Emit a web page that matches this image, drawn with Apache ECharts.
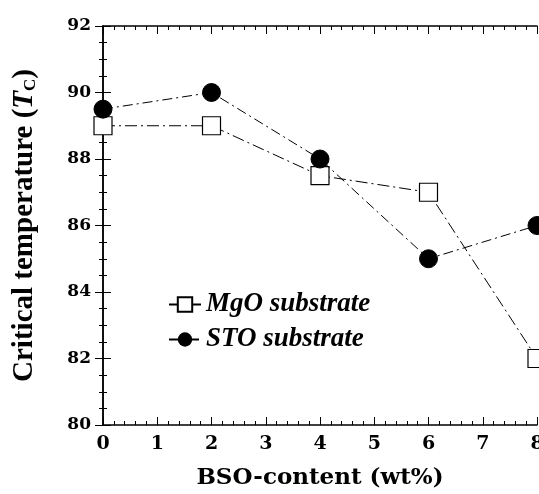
<!DOCTYPE html>
<html><head><meta charset="utf-8">
<script src="https://cdn.jsdelivr.net/npm/echarts@6/dist/echarts.min.js"></script>
<style>html,body{margin:0;padding:0;background:#fff}#c{width:539px;height:494px}</style>
</head><body><div id="c"></div>
<script>
const bso = [0, 2, 4, 6, 8];
const mgo = [89, 89, 87.5, 87, 82];
const sto = [89.5, 90, 88, 85, 86];
const xTicks = [0, 1, 2, 3, 4, 5, 6, 7, 8];
const yTicks = [80, 82, 84, 86, 88, 90, 92];

const F = '"Liberation Serif", "Times New Roman", serif';
const W = '"DejaVu Serif", "Liberation Serif", serif';
const chart = echarts.init(document.getElementById('c'));
const axisCommon = {
  axisLine: {lineStyle: {color: '#000', width: 1.5}},
  axisTick: {inside: true, length: 8, lineStyle: {color: '#000', width: 1}},
  minorTick: {show: true, length: 4, lineStyle: {color: '#000', width: 1}},
  splitLine: {show: false}
};
chart.setOption({
  animation: false,
  grid: {left: 103, right: 2, top: 26, bottom: 69, containLabel: false, outerBoundsMode: 'none'},
  legend: {
    orient: 'vertical', left: 163, top: 286, itemGap: 8,
    itemWidth: 32, itemHeight: 18,
    textStyle: {fontFamily: F, fontStyle: 'italic', fontWeight: 'bold', fontSize: 27, color: '#000'},
    data: ['MgO substrate', 'STO substrate']
  },
  xAxis: [{
    type: 'value', min: xTicks[0], max: xTicks[xTicks.length - 1], interval: 1,
    ...axisCommon, minorTick: {...axisCommon.minorTick, splitNumber: 5},
    axisLabel: {fontFamily: W, fontWeight: 'bold', fontSize: 19, color: '#000', margin: 10},
    name: 'BSO-content (wt%)', nameLocation: 'middle', nameGap: 42,
    nameTextStyle: {fontFamily: W, fontWeight: 'bold', fontSize: 23, color: '#000'}
  }, {
    type: 'value', position: 'top', min: 0, max: 8, interval: 1,
    ...axisCommon, minorTick: {...axisCommon.minorTick, splitNumber: 5},
    axisLabel: {show: false}
  }],
  yAxis: [{
    type: 'value', min: yTicks[0], max: yTicks[yTicks.length - 1], interval: 2,
    ...axisCommon, minorTick: {...axisCommon.minorTick, splitNumber: 4},
    axisLabel: {fontFamily: W, fontWeight: 'bold', fontSize: 17, color: '#000', margin: 12},
    name: '{n|Critical temperature (}{t|T}{s|C}{n|)}', nameLocation: 'middle', nameGap: 64, nameRotate: 90,
    nameTextStyle: {
      fontFamily: F, fontWeight: 'bold', fontSize: 29, color: '#000',
      rich: {
        n: {fontFamily: F, fontWeight: 'bold', fontSize: 29, color: '#000'},
        t: {fontFamily: F, fontWeight: 'bold', fontStyle: 'italic', fontSize: 29, color: '#000'},
        s: {fontFamily: F, fontWeight: 'bold', fontSize: 17, color: '#000', verticalAlign: 'bottom', padding: [12, 0, 0, 0]}
      }
    }
  }, {
    type: 'value', position: 'right', min: 80, max: 92, interval: 2,
    ...axisCommon, minorTick: {...axisCommon.minorTick, splitNumber: 4},
    axisLabel: {show: false}
  }],
  series: [{
    name: 'MgO substrate', type: 'line', data: bso.map((x, i) => [x, mgo[i]]),
    symbol: 'rect', symbolSize: 18, z: 3,
    itemStyle: {color: '#fff', borderColor: '#000', borderWidth: 1.2},
    lineStyle: {color: '#000', width: 1, type: [12, 4, 2, 4]}
  }, {
    name: 'STO substrate', type: 'line', data: bso.map((x, i) => [x, sto[i]]),
    symbol: 'circle', symbolSize: 18, z: 4,
    itemStyle: {color: '#000', borderColor: '#000'},
    lineStyle: {color: '#000', width: 1, type: [10, 4, 2, 4]}
  }]
});
</script></body></html>
